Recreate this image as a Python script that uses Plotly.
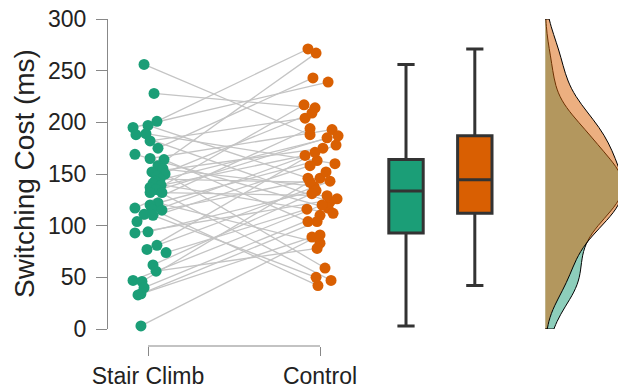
import numpy as np
import plotly.graph_objects as go

# ---- data ----
categories = ["Stair Climb", "Control"]
y_ticks = [0, 50, 100, 150, 200, 250, 300]

# paired observations (same participant at same index)
stair = [256, 228, 201, 197, 195, 189, 188, 182, 175, 169, 165, 164, 158, 155, 152, 150,
         148, 145, 143, 141, 139, 137, 135, 132, 132, 122, 120, 117, 116, 115, 111, 110,
         104, 94, 93, 81, 77, 74, 62, 56, 47, 46, 40, 34, 33, 3]
control = [188, 214, 271, 146, 239, 160, 123, 204, 243, 117, 193, 104, 267, 138, 175, 59,
           209, 142, 187, 112, 168, 47, 217, 185, 129, 83, 163, 194, 42, 146, 178, 50,
           158, 134, 126, 143, 171, 116, 131, 78, 120, 152, 110, 104, 89, 91]

# horizontal jitter (category units)
stair_jitter = [-0.023, 0.035, 0.052, 0.0, -0.087, -0.012, -0.070, 0.012, 0.058, -0.076,
                0.012, 0.093, 0.058, 0.087, 0.023, 0.099, 0.052, 0.070, 0.041, 0.029,
                0.076, 0.012, 0.047, 0.012, 0.081, 0.058, 0.012, -0.076, 0.023, 0.081,
                -0.023, 0.029, -0.064, 0.0, -0.076, 0.052, -0.006, 0.105, 0.029, 0.047,
                -0.087, -0.035, -0.023, -0.041, -0.058, -0.041]
control_jitter = [-0.058, -0.029, -0.070, -0.070, 0.047, 0.087, 0.058, -0.087, -0.041, 0.047,
                  0.070, -0.070, -0.023, -0.035, 0.017, 0.029, -0.047, -0.058, 0.105, 0.076,
                  -0.087, 0.064, -0.093, 0.041, 0.041, 0.0, -0.017, -0.058, -0.012, 0.0,
                  0.093, -0.023, -0.058, -0.023, 0.099, 0.058, -0.029, -0.076, -0.047, -0.017,
                  0.012, 0.035, 0.0, -0.017, -0.047, 0.0]

GREEN = "#1b9e77"
ORANGE = "#d95f02"
X_STAIR, X_CTRL = 1, 2
X_BOX_S, X_BOX_C = 2.5, 2.9
X_VIOLIN = 3.31


def nrd0(v):
    v = np.asarray(v, dtype=float)
    iqr = np.subtract(*np.percentile(v, [75, 25]))
    return 0.9 * min(v.std(ddof=1), iqr / 1.34) * len(v) ** -0.2


xs = [X_STAIR + j for j in stair_jitter]
xc = [X_CTRL + j for j in control_jitter]

fig = go.Figure()

# connecting lines
lx, ly = [], []
for a, b, ya, yb in zip(xs, xc, stair, control):
    lx += [a, b, None]
    ly += [ya, yb, None]
fig.add_trace(go.Scatter(x=lx, y=ly, mode="lines",
                         line=dict(color="#c4c4c4", width=1.3),
                         hoverinfo="skip", showlegend=False, cliponaxis=False))

fig.add_trace(go.Scatter(x=xs, y=stair, mode="markers",
                         marker=dict(color=GREEN, size=11, line=dict(width=0)),
                         showlegend=False, cliponaxis=False))
fig.add_trace(go.Scatter(x=xc, y=control, mode="markers",
                         marker=dict(color=ORANGE, size=11, line=dict(width=0)),
                         showlegend=False, cliponaxis=False))

# box plots
for vals, x0, col in [(stair, X_BOX_S, GREEN), (control, X_BOX_C, ORANGE)]:
    fig.add_trace(go.Box(y=vals, x0=x0, width=0.2, boxpoints=False,
                         fillcolor=col, line=dict(color="#333333", width=3),
                         whiskerwidth=0.5, quartilemethod="linear",
                         showlegend=False))

# half violins (densities)
for vals, col in [(stair, "rgba(27,158,119,0.5)"), (control, "rgba(217,95,2,0.5)")]:
    fig.add_trace(go.Violin(y=vals, x0=X_VIOLIN, side="positive", width=0.9,
                            points=False, fillcolor=col, bandwidth=nrd0(vals),
                            line=dict(color="black", width=1),
                            spanmode="manual", span=[0, 300],
                            scalegroup="d", scalemode="count",
                            box=dict(visible=False), meanline=dict(visible=False),
                            showlegend=False))

# the page body has an 8px default margin: lay the figure out so it lands in place
fig.update_layout(
    width=618, height=378,
    margin=dict(l=100, r=0, t=11, b=40),
    paper_bgcolor="white", plot_bgcolor="white",
    boxmode="overlay", violinmode="overlay",
    font=dict(family="Liberation Sans, Arial, sans-serif", color="#222222"),
    xaxis=dict(range=[0.7674, 3.779], anchor="free", position=0,
               tickvals=[X_STAIR, X_CTRL], ticktext=categories,
               ticks="outside", ticklen=9, tickcolor="#888888", tickwidth=1.2,
               showline=False, showgrid=False, zeroline=False, automargin=False,
               ticklabeloverflow="allow", tickfont=dict(size=23)),
    yaxis=dict(range=[0, 300], domain=[17 / 327, 1], automargin=False,
               tickvals=y_ticks, ticks="outside", ticklen=11, tickcolor="#888888",
               tickwidth=1.2, showline=True, linecolor="#888888", linewidth=1.2,
               showgrid=False, zeroline=False, tickfont=dict(size=23),
               ticklabeloverflow="allow", ticklabelstandoff=5),
    shapes=[dict(type="line", xref="x", yref="paper", x0=X_STAIR, x1=X_CTRL,
                 y0=0, y1=0, line=dict(color="#888888", width=1.2))],
    annotations=[dict(text="Switching Cost (ms)", textangle=-90, showarrow=False,
                      xref="paper", yref="paper", x=(24 - 108) / 518, y=(346 - 174) / 327,
                      xanchor="center", yanchor="middle", font=dict(size=28))],
)

fig.write_html("out.html")
